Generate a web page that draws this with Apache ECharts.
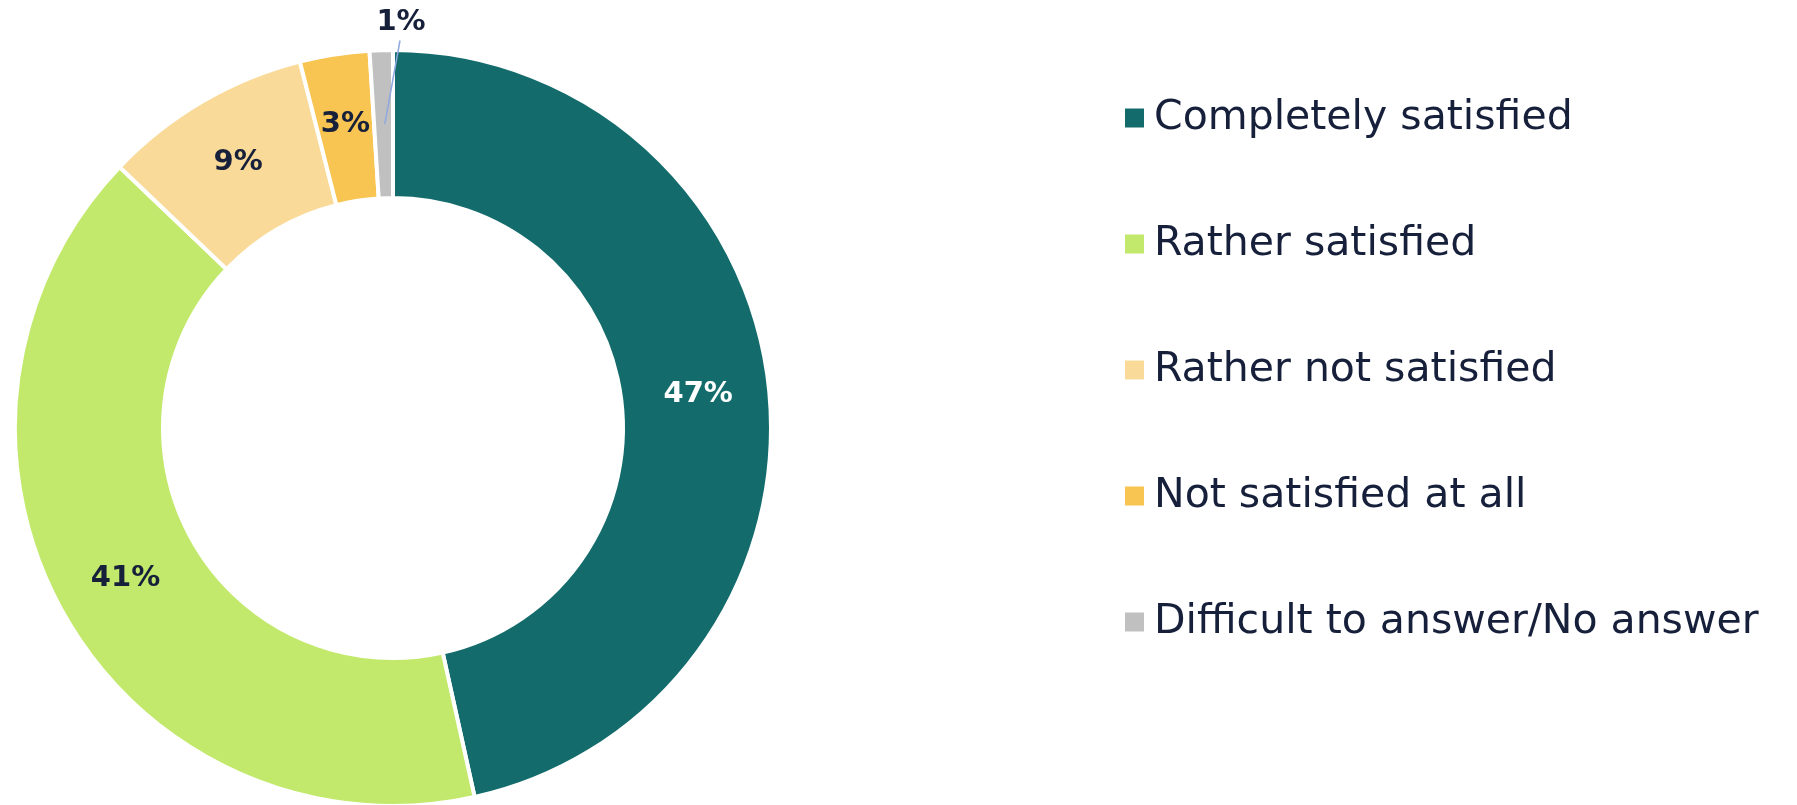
<!DOCTYPE html>
<html>
<head>
<meta charset="utf-8">
<script src="https://cdn.jsdelivr.net/npm/echarts@6/dist/echarts.min.js"></script>
<style>
  html, body { margin: 0; padding: 0; background: #ffffff; }
  #chart { width: 1797px; height: 805px; }
</style>
</head>
<body>
<div id="chart"></div>
<script>
// Satisfaction answers and their shares (%)
const categories = [
  'Completely satisfied',
  'Rather satisfied',
  'Rather not satisfied',
  'Not satisfied at all',
  'Difficult to answer/No answer'
];
const shares = [47, 41, 9, 3, 1];
const colors = ['#136b6b', '#c2e96b', '#f9da98', '#f8c452', '#c0c0c0'];
const labelColors = ['#ffffff', '#17203a', '#17203a', '#17203a', '#17203a'];

const FONT = '"DejaVu Sans", "Open Sans", sans-serif';
const DARK = '#17203a';
const SMALL_INDEX = categories.length - 1;

const ringCenter = [393, 428];
const ringRadius = [230, 378];

const labelBase = {
  formatter: p => p.value + '%',
  fontFamily: FONT,
  fontWeight: 'bold',
  fontSize: 29
};

const chart = echarts.init(document.getElementById('chart'), null, { renderer: 'canvas' });

// main ring: coloured slices with their inside labels
const ringData = categories.map((name, i) => ({
  name: name,
  value: shares[i],
  itemStyle: { color: colors[i] },
  label: { show: i !== SMALL_INDEX, color: labelColors[i] }
}));

// overlay ring: invisible slices, only the thinnest slice's label and leader line,
// drawn above the coloured ring so the line stays visible across it
const overlayData = categories.map((name, i) => ({
  name: name,
  value: shares[i],
  label: { show: i === SMALL_INDEX, color: DARK },
  labelLine: {
    show: i === SMALL_INDEX,
    length: 8,
    length2: 0,
    lineStyle: { color: '#8fa8e0', width: 1.5 }
  }
}));

chart.setOption({
  animation: false,
  backgroundColor: '#ffffff',
  legend: {
    orient: 'vertical',
    left: 1120,
    top: 92,
    itemWidth: 19,
    itemHeight: 19,
    itemGap: 84,
    icon: 'rect',
    data: categories,
    itemStyle: { borderWidth: 0 },
    textStyle: {
      fontFamily: FONT,
      fontSize: 41,
      lineHeight: 42,
      color: DARK,
      padding: [0, 0, 0, 5]
    }
  },
  series: [
    {
      type: 'pie',
      z: 2,
      center: ringCenter,
      radius: ringRadius,
      startAngle: 90,
      clockwise: true,
      avoidLabelOverlap: false,
      itemStyle: { borderColor: '#ffffff', borderWidth: 4 },
      label: Object.assign({ position: 'inside' }, labelBase),
      labelLine: { show: false },
      emphasis: { disabled: true },
      data: ringData
    },
    {
      type: 'pie',
      z: 5,
      silent: true,
      center: ringCenter,
      radius: ringRadius,
      startAngle: 90,
      clockwise: true,
      avoidLabelOverlap: false,
      itemStyle: { color: 'rgba(0,0,0,0)', borderWidth: 0 },
      label: Object.assign({ position: 'outside', distance: 4 }, labelBase),
      // lift the label above the ring; the leader line starts mid-ring
      labelLayout: function (params) {
        if (params.dataIndex !== SMALL_INDEX) return {};
        const r = params.rect;
        const lw = params.labelRect.width;
        const lh = params.labelRect.height;
        const cx = r.x + r.width + 8;
        const cy = r.y - 28;
        return {
          x: cx - lw / 2,
          y: cy - lh / 2,
          align: 'left',
          verticalAlign: 'top',
          labelLinePoints: [
            [r.x + r.width * 0.65, r.y + r.height * 0.5],
            [cx - 1, cy + lh / 2 + 4],
            [cx - 1, cy + lh / 2 + 4]
          ]
        };
      },
      emphasis: { disabled: true },
      data: overlayData
    }
  ]
});
</script>
</body>
</html>
